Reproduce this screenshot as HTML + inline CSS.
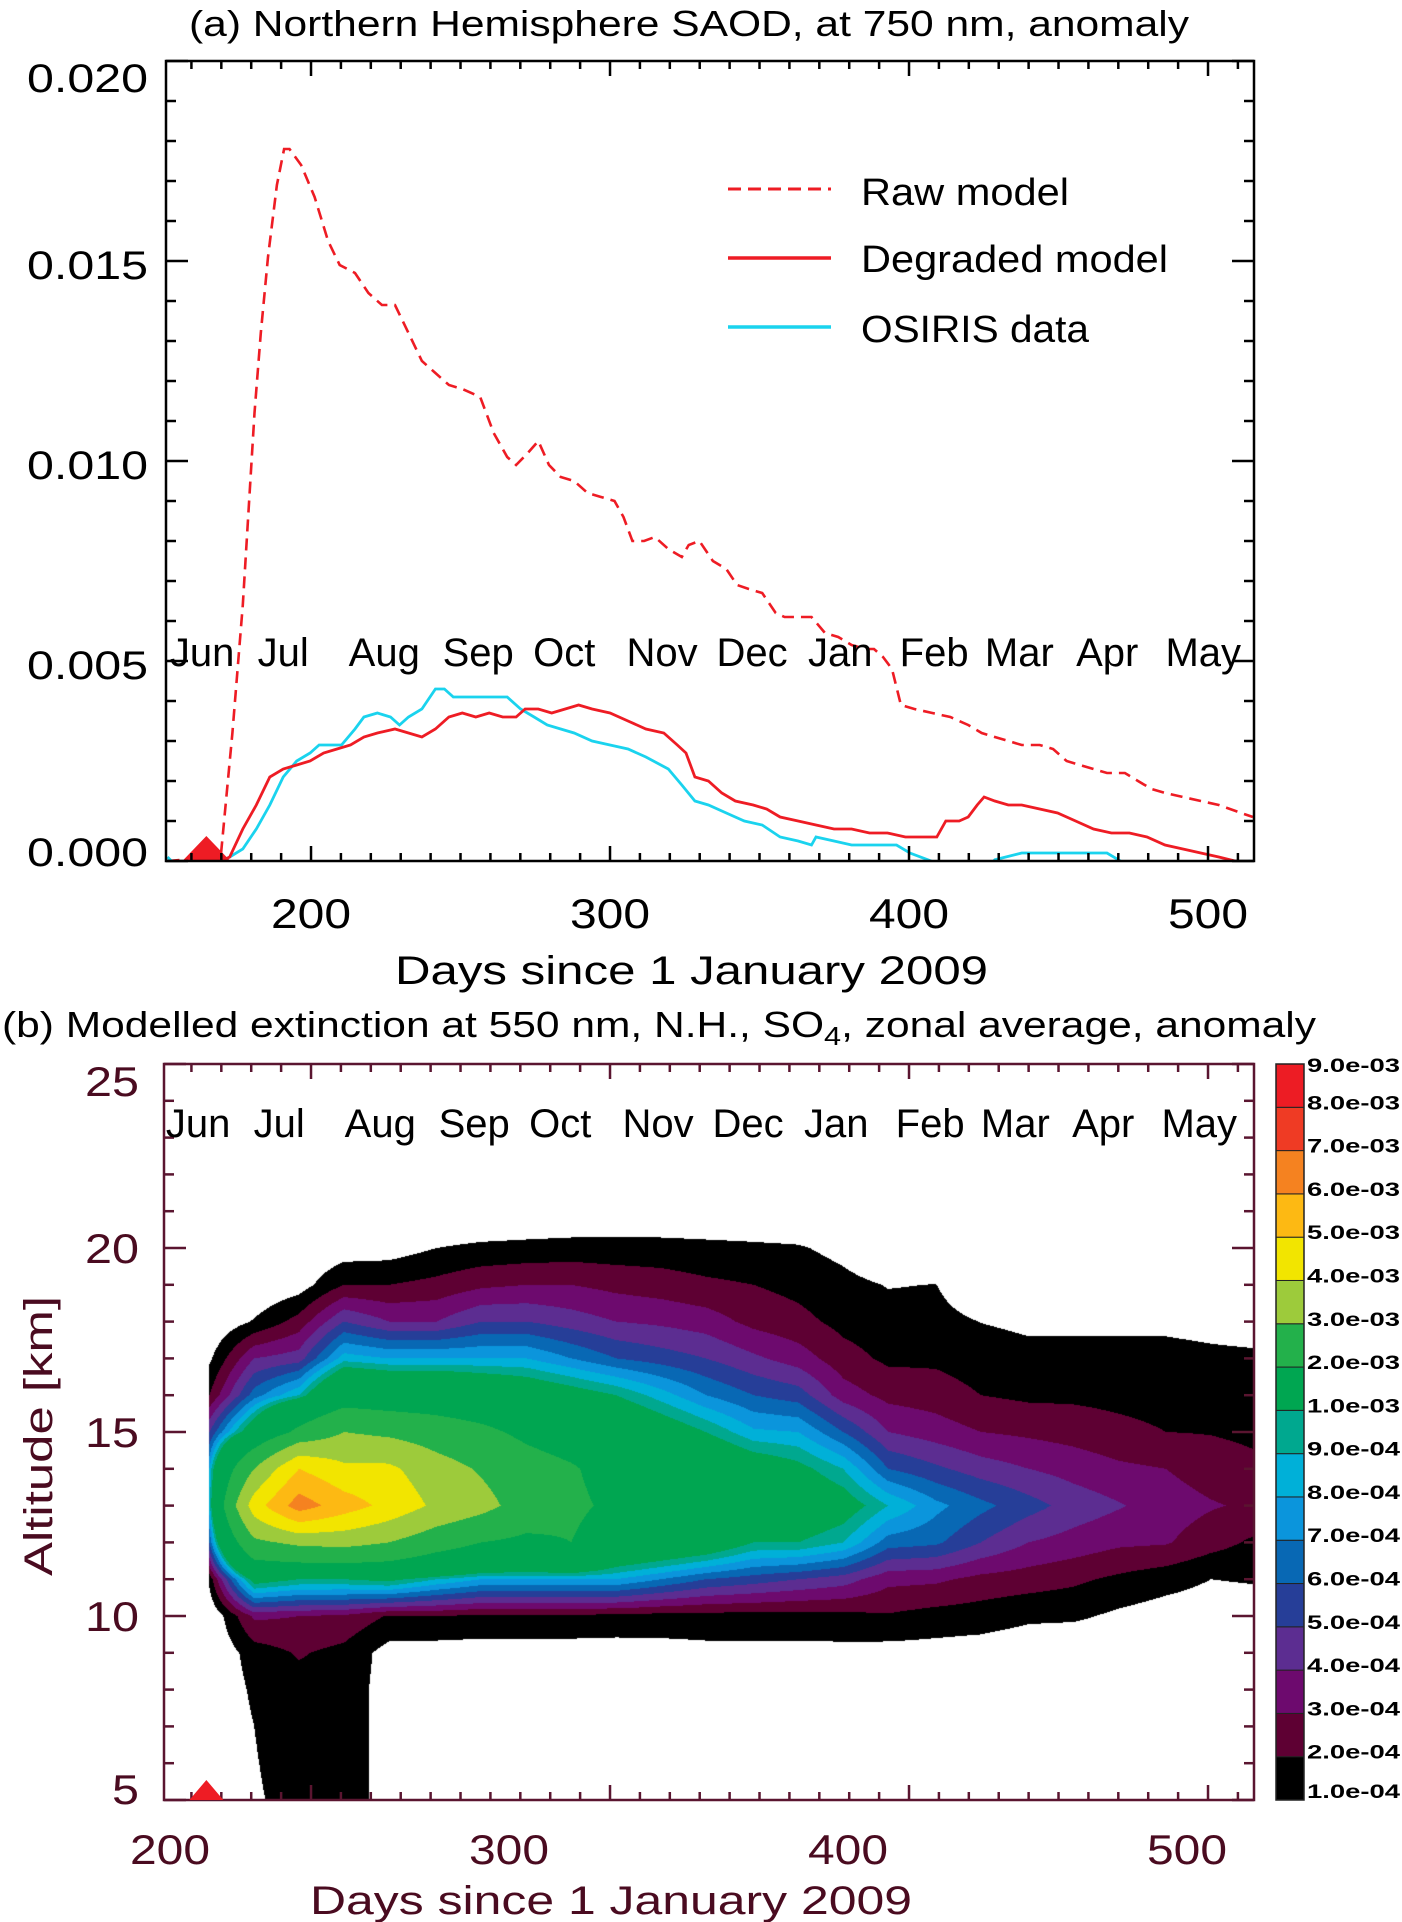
<!DOCTYPE html>
<html><head><meta charset="utf-8">
<style>
html,body{margin:0;padding:0;background:#fff;width:1402px;height:1922px;overflow:hidden}
#wrap{position:relative;width:1402px;height:1922px}
#cv{position:absolute;left:164px;top:1064px}
#svg{position:absolute;left:0;top:0}
text{font-family:"Liberation Sans",sans-serif}
</style></head>
<body>
<div id="wrap">
<canvas id="cv" width="1090" height="736"></canvas>
<svg id="svg" width="1402" height="1922" xmlns="http://www.w3.org/2000/svg">
<defs><clipPath id="clipA"><rect x="166" y="61" width="1088" height="800"/></clipPath></defs>
<text x="189" y="36" font-size="36" textLength="1000" lengthAdjust="spacingAndGlyphs">(a) Northern Hemisphere SAOD, at 750 nm, anomaly</text>
<text x="395" y="984" font-size="40" textLength="593" lengthAdjust="spacingAndGlyphs">Days since 1 January 2009</text>
<g>
<line x1="728" y1="189" x2="831" y2="189" stroke="#ee1c24" stroke-width="3" stroke-dasharray="13,7"/>
<text x="861" y="205" font-size="38" textLength="208" lengthAdjust="spacingAndGlyphs">Raw model</text>
<line x1="728" y1="258" x2="831" y2="258" stroke="#ee1c24" stroke-width="3.5"/>
<text x="861" y="272" font-size="38" textLength="307" lengthAdjust="spacingAndGlyphs">Degraded model</text>
<line x1="728" y1="327" x2="831" y2="327" stroke="#1ad3ee" stroke-width="3.5"/>
<text x="861" y="342" font-size="38" textLength="228" lengthAdjust="spacingAndGlyphs">OSIRIS data</text>
</g>
<text x="2" y="1037" font-size="36" textLength="1314" lengthAdjust="spacingAndGlyphs">(b) Modelled extinction at 550 nm, N.H., SO<tspan font-size="26" dy="8">4</tspan><tspan dy="-8">, zonal average, anomaly</tspan></text>
<text x="310" y="1914" font-size="40" fill="#4a0b20" textLength="602" lengthAdjust="spacingAndGlyphs">Days since 1 January 2009</text>
<text transform="translate(52,1436) rotate(-90)" text-anchor="middle" font-size="40" fill="#4a0b20" textLength="280" lengthAdjust="spacingAndGlyphs">Altitude [km]</text>
</svg>
</div>
<script>
// ---------- data: panel (a) ----------
const rawDays=[152,169.8,173.7,177.2,181.1,183.2,185.6,188.6,191.0,192.8,196.7,201.2,205.7,209.6,214.7,219.2,223.7,228.1,232.6,237.1,241.6,246.1,250.6,256.6,261.1,265.6,268.6,272.5,276.0,279.6,283.5,288.0,292.5,297.0,301.5,304.5,307.5,311.4,315.0,319.5,324.0,326.3,329.9,334.4,338.9,342.5,346.4,350.9,355.4,358.4,362.9,367.4,371.9,376.3,380.8,385.3,388.3,391.3,394.3,397.3,401.8,407.8,413.8,419.8,424.3,428.7,433.2,437.7,443.7,448.2,452.7,457.2,461.7,466.2,472.2,476.6,481.1,485.6,491.6,497.6,503.6,511.1,515];
const rawVals=[0,0.0001,0.0032,0.0064,0.0112,0.0132,0.0151,0.0169,0.0178,0.0178,0.0174,0.0166,0.0155,0.0149,0.0147,0.0142,0.0139,0.0139,0.0132,0.0125,0.0122,0.0119,0.0118,0.0116,0.0107,0.0101,0.0099,0.0102,0.0105,0.0099,0.0096,0.0095,0.0092,0.0091,0.0090,0.0086,0.0080,0.0080,0.0081,0.0078,0.0076,0.0079,0.0080,0.0075,0.0073,0.0069,0.0068,0.0067,0.0062,0.0061,0.0061,0.0061,0.0057,0.0056,0.0054,0.0053,0.0053,0.0051,0.0048,0.0039,0.0038,0.0037,0.0036,0.0034,0.0032,0.0031,0.0030,0.0029,0.0029,0.0028,0.0025,0.0024,0.0023,0.0022,0.0022,0.0020,0.0018,0.0017,0.0016,0.0015,0.0014,0.0012,0.0011];
const degDays=[170,172.8,177.2,181.7,186.2,190.7,195.2,199.7,204.2,208.7,213.2,217.7,222.2,228.1,232.6,237.1,241.6,246.1,250.6,255.1,259.6,264.1,268.6,271.6,276.0,280.5,285.0,289.5,294.0,300.0,306.0,312.0,318.0,322.5,325.4,328.4,332.9,337.4,341.9,347.9,352.4,356.9,362.9,368.9,374.9,380.8,386.8,392.8,398.8,404.8,409.3,412.3,416.8,419.8,422.8,425.1,428.7,433.2,437.7,443.7,449.7,455.7,461.7,467.7,473.7,479.6,485.6,491.6,497.6,503.6,509.0,515];
const degVals=[0,0.0001,0.0008,0.0014,0.0021,0.0023,0.0024,0.0025,0.0027,0.0028,0.0029,0.0031,0.0032,0.0033,0.0032,0.0031,0.0033,0.0036,0.0037,0.0036,0.0037,0.0036,0.0036,0.0038,0.0038,0.0037,0.0038,0.0039,0.0038,0.0037,0.0035,0.0033,0.0032,0.0029,0.0027,0.0021,0.0020,0.0017,0.0015,0.0014,0.0013,0.0011,0.0010,0.0009,0.0008,0.0008,0.0007,0.0007,0.0006,0.0006,0.0006,0.0010,0.0010,0.0011,0.0014,0.0016,0.0015,0.0014,0.0014,0.0013,0.0012,0.0010,0.0008,0.0007,0.0007,0.0006,0.0004,0.0003,0.0002,0.0001,0,-0.0001];
const osiDays=[152,156,162,168,172.8,177.2,181.7,186.2,190.7,195.2,199.7,202.7,205.7,210.2,214.7,217.7,222.2,226.6,229.6,232.6,237.1,241.6,244.6,247.6,252.1,256.6,261.1,265.6,270.1,274.6,279.0,283.5,288.0,294.0,300.0,306.0,312.0,319.5,324.0,328.4,332.9,338.9,344.9,350.9,356.9,362.9,367.4,368.9,374.9,380.8,386.8,392.8,395.8,400.3,406.3,410.8,419.8,427.2,428.7,437.7,443.7,449.7,455.7,461.7,466.2,470.7,473.7,490,510,514];
const osiVals=[0.0001,-0.0002,-0.0002,-0.0001,0.0001,0.0003,0.0008,0.0014,0.0021,0.0025,0.0027,0.0029,0.0029,0.0029,0.0033,0.0036,0.0037,0.0036,0.0034,0.0036,0.0038,0.0043,0.0043,0.0041,0.0041,0.0041,0.0041,0.0041,0.0038,0.0036,0.0034,0.0033,0.0032,0.0030,0.0029,0.0028,0.0026,0.0023,0.0019,0.0015,0.0014,0.0012,0.0010,0.0009,0.0006,0.0005,0.0004,0.0006,0.0005,0.0004,0.0004,0.0004,0.0004,0.0002,0.00003,-0.0001,-0.0003,-0.0001,0.00003,0.0002,0.0002,0.0002,0.0002,0.0002,0.0002,0,-0.0002,-0.0003,-0.0001,0];
const eruptionDay=[165];
const aXTicks=[200,300,400,500];
const aXTickLabels=["200","300","400","500"];
const aYTicks=[0,0.005,0.010,0.015,0.020];
const aYTickLabels=["0.000","0.005","0.010","0.015","0.020"];
const monthNames=["Jun","Jul","Aug","Sep","Oct","Nov","Dec","Jan","Feb","Mar","Apr","May"];
const monthDays=[163.6,190.7,224.5,255.9,284.7,317.4,347.5,377,408.4,436.9,466.3,498.4];

// ---------- data: panel (b) ----------
const bXTickLabelVals=[200,300,400,500];
const bXTickLabels=["200","300","400","500"];
const bYTicks=[5,10,15,20,25];
const bYTickLabels=["5","10","15","20","25"];
const levels=[1,2,3,4,5,6,7,8,9,10,20,30,40,50,60,70,80,90];
const levelLabels=["1.0e-04","2.0e-04","3.0e-04","4.0e-04","5.0e-04","6.0e-04","7.0e-04","8.0e-04","9.0e-04","1.0e-03","2.0e-03","3.0e-03","4.0e-03","5.0e-03","6.0e-03","7.0e-03","8.0e-03","9.0e-03"];
const bandColors=["#000000","#5e0033","#6d0a6e","#5c2d91","#263e98","#0868b4","#0b95dc","#00b0d8","#00a88f","#00a651","#23b14b","#9dcb3b","#f2e500","#fdb913","#f58220","#ef3b24","#ed1c24"];
const colDays=[166,181,196,211,226,242,257,272,287,302,317,332,348,363,378,393,409,424,440,455,470,486,501,516];
const altRows=[5,6,7,8,9,10,11,12,13,14,15,16,17,18,19,20,21];
const extGrid=[
[0,0,0,0,0,0,1.3,6,8.5,8,5,2,0.8,0,0,0,0],
[0.9,0.95,1.0,1.2,1.5,3.2,11,28,45,30,12,6.5,4,1.1,0,0,0],
[1.3,1.4,1.5,1.6,2.1,3,10,32,65,50,22,9,4.5,2.4,0.5,0,0],
[1.5,1.5,1.5,1.5,1.7,2.8,10,33,55,42,30,15,8.5,5,2,0.4,0],
[0.6,0.6,0.6,0.6,0.6,1.9,10.5,30,47,42,28,14,8,4,2,0.5,0],
[0,0,0,0,0.5,2,9,24,38,34,25,14,8,4,2.3,1,0],
[0,0,0,0,0.5,1.8,8,20,33,29,22,13,8,5,2.8,1.2,0],
[0,0,0,0,0.5,1.8,8,18,26,24,18,12,8,5,3,1.3,0],
[0,0,0,0,0.5,1.8,8,20,22,21,15,11,7,4.5,3,1.4,0],
[0,0,0,0,0.5,1.7,8,14,18,16,13,10,6,4,2.7,1.4,0],
[0,0,0,0,0.6,1.6,7,13,16,14,11.5,8.5,5.5,3.8,2.5,1.4,0],
[0,0,0,0,0.7,1.6,6,12,15,13,10,7,5,3.5,2.2,1.3,0],
[0,0,0,0,0.7,1.6,5.5,10,14,11.5,8.2,6,4.2,2.7,2.0,1.2,0],
[0,0,0,0,0.7,1.6,5,10,12,10.5,8,5.5,3.5,2.3,1.7,1.1,0],
[0,0,0,0,0.7,1.7,4.5,9,11,9,6,3.5,2.4,1.7,1.3,0.7,0],
[0,0,0,0,0.6,1.9,3.3,6.5,9,6,4,2.7,1.8,1.4,0.95,0,0],
[0,0,0,0,0.6,1.6,3.2,6.2,7.3,5.2,3.5,2.5,1.8,1.4,1.02,0,0],
[0,0,0,0,0.5,1.5,2.7,5,6.3,4.5,3,2,1.5,0.98,0,0,0],
[0,0,0,0,0.3,1.2,2.5,4,5.4,4,2.8,1.8,1.3,0.8,0,0,0],
[0,0,0,0,0,1.2,2.2,3.6,4.6,3.6,2.6,1.8,1.3,0.8,0,0,0],
[0,0,0,0,0,0.8,1.8,3.2,4.1,3.2,2.3,1.7,1.3,0.8,0,0,0],
[0,0,0,0,0,0.5,1.4,3.1,3.5,3.0,2.0,1.6,1.3,0.8,0,0,0],
[0,0,0,0,0,0.4,1.0,2.4,3.1,2.5,1.95,1.5,1.2,0.7,0,0,0],
[0,0,0,0,0,0.4,1.1,1.8,2.8,2.2,1.8,1.4,1.15,0.6,0,0,0]
];

// ---------- scales ----------
const A={l:166,r:1254,t:61,b:861};
const B={l:164,r:1254,t:1064,b:1800};
function xa(d){return A.l+(d-151.5)*2.99;}
function ya(v){return A.b-v*40000;}
function xb(d){return A.l+(d-151.5)*2.99;}
function yb(a){return B.t+(25-a)*(B.b-B.t)/20;}
function xbLabel(v){return 170+(v-200)*3.39;}
function cbY(k){return B.t+(B.b-B.t)*(17-k)/17;}

const NS="http://www.w3.org/2000/svg";
const svg=document.getElementById('svg');
function mk(tag,attrs,parent){const e=document.createElementNS(NS,tag);for(const k in attrs)e.setAttribute(k,attrs[k]);(parent||svg).appendChild(e);return e;}
function pathFrom(xs,ys,fx,fy){let d='';for(let i=0;i<xs.length;i++){d+=(i?'L':'M')+fx(xs[i]).toFixed(1)+','+fy(ys[i]).toFixed(1);}return d;}

// ---------- panel (a) ----------
const gA=mk('g',{});


const seriesG=mk('g',{'clip-path':'url(#clipA)'},gA);


const pRaw=mk('path',{d:pathFrom(rawDays,rawVals,xa,ya),fill:'none',stroke:'#ee1c24','stroke-width':2.6,'stroke-dasharray':'12,7'},seriesG);


const pOsi=mk('path',{d:pathFrom(osiDays,osiVals,xa,ya),fill:'none',stroke:'#1ad3ee','stroke-width':2.8},seriesG);


const pDeg=mk('path',{d:pathFrom(degDays,degVals,xa,ya),fill:'none',stroke:'#ee1c24','stroke-width':2.8},seriesG);


const triA=mk('polygon',{points:`${xa(eruptionDay[0])-24},${A.b} ${xa(eruptionDay[0])},${A.b-25} ${xa(eruptionDay[0])+24},${A.b}`,fill:'#ee1c24'},gA);


const frA=mk('rect',{x:A.l,y:A.t,width:A.r-A.l,height:A.b-A.t,fill:'none',stroke:'#000','stroke-width':2.5},gA);


for(let d=160;d<=510;d+=10){
  const x=xa(d), L=(d%100===0)?15:8;
  const t1=mk('line',{x1:x,y1:A.b,x2:x,y2:A.b-L,stroke:'#000','stroke-width':2.5},gA);
  
  
  const t2=mk('line',{x1:x,y1:A.t,x2:x,y2:A.t+L,stroke:'#000','stroke-width':2.5},gA);
  
  
}
for(let k=0;k<=20;k++){
  const y=ya(k*0.001), L=(k%5===0)?22:10;
  const t1=mk('line',{x1:A.l,y1:y,x2:A.l+L,y2:y,stroke:'#000','stroke-width':2.5},gA);
  
  
  const t2=mk('line',{x1:A.r,y1:y,x2:A.r-L,y2:y,stroke:'#000','stroke-width':2.5},gA);
  
  
}
aXTicks.forEach((v,i)=>{
  const t=mk('text',{x:xa(v),y:928,'font-size':42,'text-anchor':'middle',textLength:80,lengthAdjust:'spacingAndGlyphs'},gA);
  t.textContent=aXTickLabels[i];
  
  
});
aYTicks.forEach((v,i)=>{
  const c=Math.min(852,Math.max(78,ya(v)+4));
  const t=mk('text',{x:148,y:c+14,'font-size':40,'text-anchor':'end',textLength:121,lengthAdjust:'spacingAndGlyphs'},gA);
  t.textContent=aYTickLabels[i];
  
  
});
monthNames.forEach((m,i)=>{
  const t=mk('text',{x:xa(monthDays[i]),y:666,'font-size':40,'text-anchor':'middle'},gA);
  t.textContent=m;
  
  
});

// ---------- panel (b) contour ----------
(function(){
  const cv=document.getElementById('cv');
  const ctx=cv.getContext('2d');
  const W=cv.width,H=cv.height;
  const img=ctx.createImageData(W,H);
  const rgb=bandColors.map(c=>[parseInt(c.substr(1,2),16),parseInt(c.substr(3,2),16),parseInt(c.substr(5,2),16)]);
  const n=colDays.length, m=altRows.length;
  for(let px=0;px<W;px++){
    const X=B.l+px+0.5;
    const d=151.5+(X-A.l)/2.99;
    if(d<colDays[0]) continue;
    let i=0; while(i<n-2 && d>colDays[i+1]) i++;
    let fx=(d-colDays[i])/(colDays[i+1]-colDays[i]); if(fx>1) fx=1;
    for(let py=0;py<H;py++){
      const Y=B.t+py+0.5;
      const a=25-(Y-B.t)*20/(B.b-B.t);
      if(a<altRows[0]||a>altRows[m-1]) continue;
      let j=Math.min(m-2,Math.floor(a-altRows[0]));
      const fy=(a-altRows[j])/(altRows[j+1]-altRows[j]);
      const v=(extGrid[i][j]*(1-fx)+extGrid[i+1][j]*fx)*(1-fy)+(extGrid[i][j+1]*(1-fx)+extGrid[i+1][j+1]*fx)*fy;
      if(v<levels[0]) continue;
      let k=0; while(k<levels.length-2 && v>=levels[k+1]) k++;
      const c=rgb[k], o=(py*W+px)*4;
      img.data[o]=c[0];img.data[o+1]=c[1];img.data[o+2]=c[2];img.data[o+3]=255;
    }
  }
  ctx.putImageData(img,0,0);
})();

const gB=mk('g',{});


const AX='#5a1530';
const frB=mk('rect',{x:B.l,y:B.t,width:B.r-B.l,height:B.b-B.t,fill:'none',stroke:AX,'stroke-width':2.5},gB);


for(let d=160;d<=510;d+=10){
  const x=xb(d), L=(d%100===0)?15:8;
  const t1=mk('line',{x1:x,y1:B.b,x2:x,y2:B.b-L,stroke:AX,'stroke-width':2.5},gB);
  
  
  const t2=mk('line',{x1:x,y1:B.t,x2:x,y2:B.t+L,stroke:AX,'stroke-width':2.5},gB);
  
  
}
for(let a=5;a<=25;a++){
  const y=yb(a), L=(a%5===0)?22:10;
  const t1=mk('line',{x1:B.l,y1:y,x2:B.l+L,y2:y,stroke:AX,'stroke-width':2.5},gB);
  
  
  const t2=mk('line',{x1:B.r,y1:y,x2:B.r-L,y2:y,stroke:AX,'stroke-width':2.5},gB);
  
  
}
const triB=mk('polygon',{points:`${xb(eruptionDay[0])-17},${B.b} ${xb(eruptionDay[0])},${B.b-20} ${xb(eruptionDay[0])+17},${B.b}`,fill:'#ee1c24'},gB);


bXTickLabelVals.forEach((v,i)=>{
  const t=mk('text',{x:xbLabel(v),y:1864,'font-size':42,fill:'#4a0b20','text-anchor':'middle',textLength:80,lengthAdjust:'spacingAndGlyphs'},gB);
  t.textContent=bXTickLabels[i];
  
  
});
bYTicks.forEach((v,i)=>{
  const c=Math.min(1789,Math.max(1081,yb(v)));
  const t=mk('text',{x:139,y:c+15,'font-size':42,fill:'#4a0b20','text-anchor':'end',textLength:bYTickLabels[i].length*27,lengthAdjust:'spacingAndGlyphs'},gB);
  t.textContent=bYTickLabels[i];
  
  
});
monthNames.forEach((m,i)=>{
  const t=mk('text',{x:xb(monthDays[i])-4,y:1137,'font-size':40,'text-anchor':'middle'},gB);
  t.textContent=m;
  
  
});
const gC=mk('g',{});


bandColors.forEach((c,k)=>{
  const r=mk('rect',{x:1276,y:cbY(k+1),width:28,height:cbY(k)-cbY(k+1),fill:c,stroke:'#222','stroke-width':1},gC);
  
  
});
const cbF=mk('rect',{x:1276,y:B.t,width:28,height:B.b-B.t,fill:'none',stroke:'#222','stroke-width':1.5},gC);


levelLabels.forEach((s,k)=>{
  const y=Math.min(B.b-2,Math.max(B.t+8,cbY(k)+2));
  const t=mk('text',{x:1307,y:y,'font-size':19,'font-weight':'bold',textLength:93,lengthAdjust:'spacingAndGlyphs'},gC);
  t.textContent=s;
  
  
});
</script>
</body></html>
